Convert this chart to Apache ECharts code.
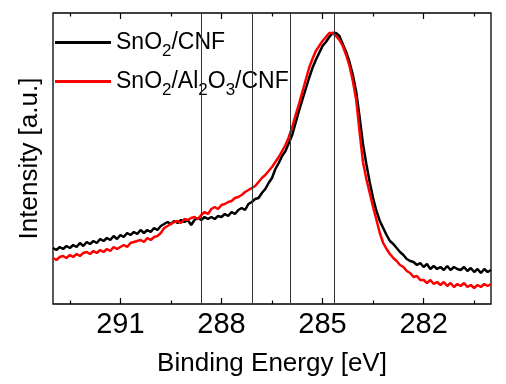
<!DOCTYPE html>
<html>
<head>
<meta charset="utf-8">
<script src="https://cdn.jsdelivr.net/npm/echarts@6/dist/echarts.min.js"></script>
<style>
html,body{margin:0;padding:0;background:#fff;}
#c{width:506px;height:384px;}
</style>
</head>
<body>
<div id="c"></div>
<script>
// Binding energy grid: 293.0 eV down to 280.0 eV, 0.1 eV steps
const energyStart = 293.0;
const energyStep = 0.1;
const energy = [];
for (let i = 0; i <= 130; i++) energy.push(+(energyStart - i * energyStep).toFixed(1));

// Intensity (a.u.), ordered from 293.0 to 280.0 eV
const sno2Cnf = [
56,54,57,55,58,56,59,57,61,58,
62,60,63,61,65,63,66,64,68,65,
69,67,71,69,72,70,74,71,74,72,
76,74,78,80,82,80,83,81,84,82,
84,79,84,86,84,87,85,87,85,88,
87,90,88,92,90,94,96,94,100,102,
105,106,111,115,121,126,135,141,148,153,
161,169,181,193,204,215,226,236,244,251,
258,262,267,271,271,268,260,252,242,229,
212,187,160,140,122,106,93,83,76,69,
63,60,56,52,49,45,43,42,39,41,
37,40,35,38,35,37,34,38,34,37,
35,34,37,33,36,32,35,31,35,32,
34
];
const sno2Al2o3Cnf = [
46,44,47,48,46,49,47,50,48,51,
52,50,53,51,54,52,55,53,57,55,
57,59,57,61,62,63,64,62,66,64,
67,68,71,76,78,80,82,83,81,85,
84,86,87,85,89,92,90,95,97,95,
99,100,102,103,106,107,109,112,114,116,
118,122,126,129,133,137,142,147,153,159,
167,177,189,200,212,224,236,245,253,258,
263,267,271,271,268,264,258,249,238,223,
204,172,142,125,111,97,84,71,61,55,
50,46,43,39,37,33,31,27,28,24,
24,21,24,20,22,19,22,18,21,17,
20,18,21,17,19,16,19,17,20,18,
20
];
const seriesNames = ['SnO2/CNF', 'SnO2/Al2O3/CNF'];
// Vertical reference lines (eV)
const refLines = [288.6, 287.1, 285.95, 284.65];
// Axis ticks
const majorTicks = [282, 285, 288, 291];
const minorTicks = [280.5, 283.5, 286.5, 289.5, 292.5];

const pair = arr => arr.map((v, i) => [energy[i], v]);
const FONT = '"Liberation Sans", Arial, sans-serif';

const baseX = {
  type: 'value', min: 280, max: 293, inverse: true, gridIndex: 0,
  splitLine: { show: false }, axisLine: { show: false }
};

const chart = echarts.init(document.getElementById('c'));
chart.setOption({
  animation: false,
  backgroundColor: '#fff',
  grid: { left: 53, right: 15, top: 13, bottom: 80, show: true, borderColor: '#000', borderWidth: 1.3, backgroundColor: 'transparent' },
  legend: {
    data: seriesNames,
    orient: 'vertical', left: 55, top: 31, itemGap: 10, padding: 0,
    icon: 'rect', itemWidth: 56, itemHeight: 3,
    formatter: n => n === 'SnO2/CNF'
      ? '{t|SnO}{s|2}{t|/CNF}'
      : '{t|SnO}{s|2}{t|/Al}{s|2}{t|O}{s|3}{t|/CNF}',
    textStyle: {
      fontFamily: FONT, fontSize: 23, color: '#000',
      rich: {
        t: { fontFamily: FONT, fontSize: 23, color: '#000', lineHeight: 35 },
        s: { fontFamily: FONT, fontSize: 17, color: '#000', lineHeight: 17, verticalAlign: 'bottom' }
      }
    }
  },
  xAxis: [
    Object.assign({}, baseX, {
      position: 'bottom',
      name: 'Binding Energy [eV]', nameLocation: 'middle', nameGap: 47,
      nameTextStyle: { fontFamily: FONT, fontSize: 26, color: '#000' },
      axisTick: { show: true, inside: true, length: 6, lineStyle: { color: '#000', width: 1.2 }, customValues: majorTicks },
      axisLabel: { show: true, margin: 6, fontFamily: FONT, fontSize: 29, color: '#000', customValues: majorTicks }
    }),
    Object.assign({}, baseX, {
      position: 'bottom',
      axisTick: { show: true, inside: true, length: 3.5, lineStyle: { color: '#000', width: 1.2 }, customValues: minorTicks },
      axisLabel: { show: false }
    }),
    Object.assign({}, baseX, {
      position: 'top',
      axisTick: { show: true, inside: true, length: 6, lineStyle: { color: '#000', width: 1.2 }, customValues: majorTicks },
      axisLabel: { show: false }
    }),
    Object.assign({}, baseX, {
      position: 'top',
      axisTick: { show: true, inside: true, length: 3.5, lineStyle: { color: '#000', width: 1.2 }, customValues: minorTicks },
      axisLabel: { show: false }
    })
  ],
  yAxis: {
    type: 'value', min: 0, max: 291,
    name: 'Intensity [a.u.]', nameLocation: 'middle', nameGap: 10, nameRotate: 90,
    nameTextStyle: { fontFamily: FONT, fontSize: 26, color: '#000' },
    axisLine: { show: false }, axisTick: { show: false }, axisLabel: { show: false }, splitLine: { show: false }
  },
  series: [
    {
      name: 'ref', type: 'line', xAxisIndex: 0, data: [], silent: true,
      markLine: {
        symbol: 'none', silent: true, animation: false, label: { show: false },
        lineStyle: { color: '#333', width: 1, type: 'solid' },
        data: refLines.map(v => ({ xAxis: v }))
      }
    },
    {
      name: seriesNames[0], type: 'line', xAxisIndex: 0, data: pair(sno2Cnf),
      showSymbol: false, symbol: 'none', lineStyle: { color: '#000', width: 2.5 }, itemStyle: { color: '#000' }
    },
    {
      name: seriesNames[1], type: 'line', xAxisIndex: 0, data: pair(sno2Al2o3Cnf),
      showSymbol: false, symbol: 'none', lineStyle: { color: '#ff0000', width: 2.5 }, itemStyle: { color: '#ff0000' }
    }
  ]
});
</script>
</body>
</html>
